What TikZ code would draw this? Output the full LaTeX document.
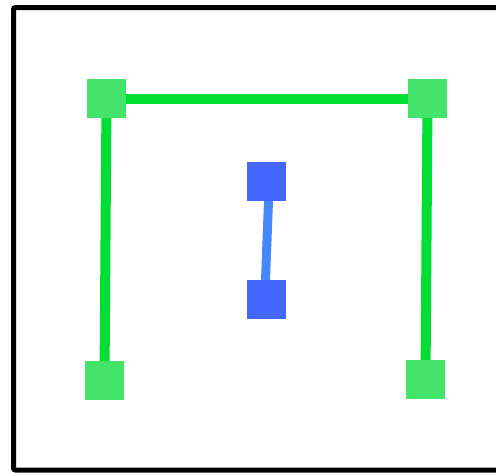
\documentclass[tikz,border=0pt]{standalone}
\usepackage{tikz}
\usetikzlibrary{positioning}
\usepackage{xcolor}

\definecolor{gbox}{HTML}{44E46A}
\definecolor{gline}{HTML}{00DD33}
\definecolor{bbox}{HTML}{4466FF}
\definecolor{bline}{HTML}{4488FF}

\begin{document}
\begin{tikzpicture}[
    x=0.5pt, y=-0.5pt,
    sq/.style={minimum size=19.5pt, inner sep=0pt, outer sep=0pt},
    gsq/.style={sq, fill=gbox},
    bsq/.style={sq, fill=bbox},
    gwire/.style={draw=gline, line width=5pt},
    bwire/.style={draw=bline, line width=4.5pt}
]
\useasboundingbox (0,0) rectangle (496,472);
% Frame (open on the right)
\draw[line width=2.5pt, rounded corners=1pt] (520,7.5) -- (13.5,7.5) -- (13.5,470) -- (520,470);
% Green squares
\node[gsq] (tl) at (106.5,98.5) {};
\node[gsq] (tr) at (427.5,98.5) {};
\node[gsq] (bl) at (104.5,380.5) {};
\node[gsq] (br) at (425.5,379.5) {};
% Blue squares
\node[bsq] (bt) at (266.5,181.5) {};
\node[bsq] (bb) at (266.5,299.5) {};
% Wires
\draw[gwire] (tl) -- (tr);
\draw[gwire] (tl) -- (bl);
\draw[gwire] (tr) -- (br);
\draw[bwire] ([xshift=1pt]bt.south) -- ([xshift=-0.5pt]bb.north);
\end{tikzpicture}
\end{document}
